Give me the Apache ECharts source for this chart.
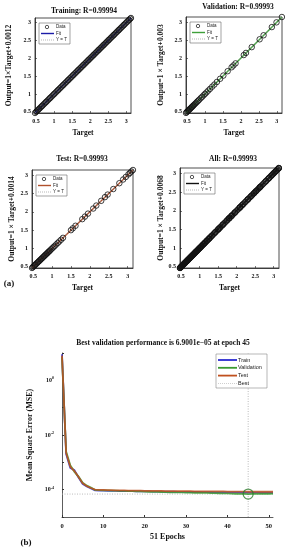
<!DOCTYPE html>
<html><head><meta charset="utf-8">
<script src="https://cdn.jsdelivr.net/npm/echarts@6/dist/echarts.min.js"></script>
<style>html,body{margin:0;padding:0;background:#fff}#c{width:288px;height:550px}</style>
</head><body><div id="c"></div>
<script>
// ---------- data ----------
const regTicks = [0.5, 1, 1.5, 2, 2.5, 3];
const trainT = [0.47,0.50,0.52,0.55,0.58,0.60,0.63,0.66,0.68,0.71,0.74,0.77,0.79,0.82,0.85,0.88,0.90,0.93,0.96,0.99,1.01,1.04,1.07,1.10,1.12,1.15,1.18,1.21,1.24,1.26,1.29,1.32,1.35,1.38,1.40,1.43,1.46,1.49,1.52,1.54,1.57,1.60,1.63,1.66,1.68,1.71,1.74,1.77,1.80,1.82,1.85,1.88,1.91,1.94,1.96,1.99,2.02,2.05,2.08,2.10,2.13,2.16,2.19,2.22,2.24,2.27,2.30,2.33,2.36,2.38,2.41,2.44,2.47,2.50,2.52,2.55,2.58,2.61,2.64,2.66,2.69,2.72,2.75,2.78,2.80,2.83,2.86,2.89,2.92,2.94,2.97,3.00,3.03,3.06,3.08,3.11,3.13];
const trainY = [0.471,0.502,0.521,0.551,0.582,0.601,0.632,0.661,0.681,0.712,0.741,0.772,0.791,0.821,0.852,0.881,0.902,0.931,0.962,0.991,1.012,1.041,1.072,1.101,1.121,1.152,1.181,1.212,1.241,1.261,1.292,1.321,1.351,1.382,1.401,1.432,1.461,1.491,1.522,1.541,1.572,1.601,1.632,1.661,1.682,1.711,1.742,1.771,1.802,1.821,1.852,1.881,1.912,1.941,1.962,1.991,2.022,2.051,2.081,2.102,2.131,2.162,2.191,2.222,2.241,2.272,2.301,2.332,2.361,2.382,2.411,2.442,2.471,2.502,2.521,2.552,2.581,2.612,2.641,2.662,2.691,2.722,2.751,2.782,2.801,2.832,2.861,2.892,2.921,2.942,2.971,3.002,3.031,3.062,3.081,3.112,3.131];
const valT = [0.47,0.49,0.51,0.53,0.55,0.57,0.59,0.61,0.63,0.65,0.67,0.69,0.72,0.75,0.78,0.81,0.84,0.88,0.92,0.96,1.00,1.04,1.09,1.14,1.20,1.26,1.33,1.42,1.51,1.63,1.74,1.79,1.85,2.08,2.14,2.30,2.52,2.63,2.86,2.99,3.14];
const valY = [0.472,0.494,0.513,0.534,0.553,0.574,0.592,0.613,0.634,0.652,0.673,0.694,0.723,0.752,0.784,0.812,0.843,0.884,0.922,0.963,1.003,1.042,1.094,1.143,1.204,1.262,1.334,1.423,1.512,1.634,1.743,1.794,1.852,2.084,2.143,2.304,2.522,2.634,2.862,2.994,3.143];
const testT = [0.47,0.49,0.51,0.53,0.55,0.57,0.59,0.61,0.63,0.65,0.67,0.69,0.71,0.73,0.75,0.77,0.79,0.81,0.83,0.85,0.87,0.89,0.91,0.93,0.95,0.98,1.01,1.04,1.07,1.11,1.15,1.19,1.24,1.29,1.50,1.55,1.62,1.80,1.87,1.95,2.09,2.17,2.30,2.40,2.47,2.62,2.78,2.88,2.95,3.02,3.06,3.10,3.14];
const testY = [0.471,0.492,0.511,0.532,0.551,0.572,0.591,0.612,0.631,0.652,0.671,0.692,0.711,0.732,0.751,0.772,0.791,0.812,0.831,0.852,0.871,0.892,0.911,0.932,0.951,0.982,1.011,1.042,1.071,1.112,1.151,1.192,1.241,1.292,1.501,1.552,1.621,1.802,1.871,1.952,2.091,2.172,2.301,2.402,2.471,2.622,2.781,2.882,2.951,3.022,3.061,3.102,3.141];
const allT = trainT.concat(valT, testT);
const allY = trainY.concat(valY, testY);

const regTitles = ['Training: R=0.99994', 'Validation: R=0.99993', 'Test: R=0.99993', 'All: R=0.99993'];
const regYNames = ['Output=1\u00d7Target+0.0012', 'Output=1 \u00d7 Target+0.003', 'Output=1 \u00d7 Target+0.0014', 'Output=1 \u00d7 Target+0.0068'];
const fitSlope = [1, 1, 1, 1];
const fitB = [0.0012, 0.003, 0.0014, 0.0068];

const perfXTicks = [0, 10, 20, 30, 40, 50];
const perfYLabelExps = [0, -2, -4];
const trainPerf = [9, 2.0e-3, 6.2e-4, 5.2e-4, 2.8e-4, 1.6e-4, 1.3e-4, 1.1e-4, 9.4e-5, 9.3e-5, 9.2e-5, 9.1e-5, 9.1e-5, 9.0e-5, 8.9e-5, 8.9e-5, 8.8e-5, 8.8e-5, 8.7e-5, 8.7e-5, 8.6e-5, 8.6e-5, 8.5e-5, 8.5e-5, 8.5e-5, 8.4e-5, 8.4e-5, 8.4e-5, 8.3e-5, 8.3e-5, 8.3e-5, 8.2e-5, 8.2e-5, 8.2e-5, 8.1e-5, 8.1e-5, 8.1e-5, 8.0e-5, 8.0e-5, 8.0e-5, 7.9e-5, 7.9e-5, 7.9e-5, 7.9e-5, 7.8e-5, 7.8e-5, 7.8e-5, 7.8e-5, 7.7e-5, 7.7e-5, 7.7e-5, 7.7e-5];
const valPerf = [7, 2.5e-3, 7.8e-4, 4.5e-4, 3.0e-4, 1.8e-4, 1.4e-4, 1.2e-4, 9.8e-5, 9.6e-5, 9.5e-5, 9.4e-5, 9.3e-5, 9.2e-5, 9.1e-5, 9.0e-5, 8.9e-5, 8.8e-5, 8.7e-5, 8.6e-5, 8.5e-5, 8.4e-5, 8.3e-5, 8.3e-5, 8.2e-5, 8.1e-5, 8.0e-5, 8.0e-5, 7.9e-5, 7.9e-5, 7.8e-5, 7.8e-5, 7.7e-5, 7.7e-5, 7.6e-5, 7.6e-5, 7.5e-5, 7.5e-5, 7.4e-5, 7.3e-5, 7.3e-5, 7.2e-5, 7.1e-5, 7.0e-5, 7.0e-5, 6.9001e-5, 7.0e-5, 7.0e-5, 7.1e-5, 7.1e-5, 7.1e-5, 7.2e-5];
const testPerf = [8, 2.2e-3, 7.0e-4, 4.8e-4, 2.9e-4, 1.7e-4, 1.35e-4, 1.15e-4, 1.0e-4, 9.9e-5, 9.8e-5, 9.7e-5, 9.6e-5, 9.5e-5, 9.4e-5, 9.4e-5, 9.3e-5, 9.3e-5, 9.2e-5, 9.2e-5, 9.1e-5, 9.1e-5, 9.0e-5, 9.0e-5, 9.0e-5, 8.9e-5, 8.9e-5, 8.9e-5, 8.8e-5, 8.8e-5, 8.8e-5, 8.8e-5, 8.7e-5, 8.7e-5, 8.7e-5, 8.7e-5, 8.6e-5, 8.6e-5, 8.6e-5, 8.6e-5, 8.5e-5, 8.5e-5, 8.5e-5, 8.5e-5, 8.5e-5, 8.4e-5, 8.4e-5, 8.4e-5, 8.4e-5, 8.4e-5, 8.4e-5, 8.4e-5];
const bestEpoch = 45;
const bestPerf = 6.9001e-5;
const perfTitle = 'Best validation performance is 6.9001e\u221205 at epoch 45';

// ---------- styling / layout ----------
const SERIF = "'Liberation Serif','Times New Roman',serif";
const SANS = "'Liberation Sans',Arial,sans-serif";
const fitColors = ['#1c1ca8', '#3ea03a', '#b0502c', '#111111'];
const perfColors = ['#2a2ad0', '#3a9a30', '#c0501e'];
const regGrids = [
  {left: 35, top: 18, width: 96, height: 95},
  {left: 186, top: 17, width: 96, height: 96},
  {left: 32, top: 170, width: 101, height: 98},
  {left: 180, top: 168, width: 99, height: 100}
];
const regTitlePos = [[84, 11], [238, 7], [82, 159], [233, 159]];
const regYNameGap = [22, 21, 16, 15];
const perfGrid = {left: 62, top: 353, width: 211, height: 164};

const regT = [trainT, valT, testT, allT];
const regY = [trainY, valY, testY, allY];

const grids = [], xAxes = [], yAxes = [], series = [], graphics = [];
const tickLabel = {fontSize: 6, fontWeight: 'bold', fontFamily: SERIF, color: '#111'};
const nameStyle = {fontSize: 7.5, fontWeight: 'bold', fontFamily: SERIF, color: '#111'};

for (let i = 0; i < 4; i++) {
  const T = regT[i], Y = regY[i];
  const lo = Math.min(...T, ...Y), hi = Math.max(...T, ...Y);
  grids.push(Object.assign({show: true, borderColor: '#222', borderWidth: 0.8, backgroundColor: '#fff'}, regGrids[i]));
  const common = {
    type: 'value', gridIndex: i, min: lo, max: hi,
    axisLine: {lineStyle: {color: '#222', width: 0.8}},
    axisTick: {inside: true, length: 2, customValues: regTicks, lineStyle: {color: '#222', width: 0.6}},
    splitLine: {show: false},
    nameLocation: 'middle', nameTextStyle: nameStyle
  };
  xAxes.push(Object.assign({}, common, {
    name: 'Target', nameGap: 16,
    axisLabel: Object.assign({customValues: regTicks, margin: 5, formatter: v => String(v)}, tickLabel)
  }));
  yAxes.push(Object.assign({}, common, {
    name: regYNames[i], nameGap: regYNameGap[i],
    axisLabel: Object.assign({customValues: regTicks, margin: 4, formatter: v => String(v)}, tickLabel)
  }));
  series.push({
    type: 'line', xAxisIndex: i, yAxisIndex: i, name: 'Fit', symbol: 'none',
    lineStyle: {color: fitColors[i], width: 1.4},
    data: [[lo, fitSlope[i] * lo + fitB[i]], [hi, fitSlope[i] * hi + fitB[i]]], z: 2
  });
  series.push({
    type: 'line', xAxisIndex: i, yAxisIndex: i, name: 'Y = T', symbol: 'none',
    lineStyle: {color: '#888', width: 0.8, type: [1, 1.5]},
    data: [[lo, lo], [hi, hi]], z: 3
  });
  series.push({
    type: 'scatter', xAxisIndex: i, yAxisIndex: i, name: 'Data',
    symbol: 'circle', symbolSize: 5.5, clip: true,
    itemStyle: {color: 'rgba(0,0,0,0)', borderColor: '#111', borderWidth: 1},
    data: T.map((t, k) => [t, Y[k]]), z: 4
  });
  graphics.push({type: 'text', x: regTitlePos[i][0], y: regTitlePos[i][1], z: 100,
    style: {text: regTitles[i], font: 'bold 7.5px ' + SERIF, fill: '#111', align: 'center', verticalAlign: 'middle'}});
  // legend box
  const lx = regGrids[i].left + 4, ly = regGrids[i].top + 5;
  graphics.push({type: 'rect', z: 100, shape: {x: lx, y: ly, width: 31, height: 21}, style: {fill: '#fff', stroke: '#666', lineWidth: 0.6}});
  graphics.push({type: 'circle', z: 101, shape: {cx: lx + 8, cy: ly + 4, r: 1.7}, style: {fill: 'none', stroke: '#111', lineWidth: 0.7}});
  graphics.push({type: 'line', z: 101, shape: {x1: lx + 2, y1: ly + 10.5, x2: lx + 15, y2: ly + 10.5}, style: {stroke: fitColors[i], lineWidth: 1.4}});
  graphics.push({type: 'line', z: 101, shape: {x1: lx + 2, y1: ly + 17, x2: lx + 15, y2: ly + 17}, style: {stroke: '#999', lineWidth: 0.7, lineDash: [1, 1]}});
  ['Data', 'Fit', 'Y = T'].forEach((s, k) => graphics.push({type: 'text', z: 101, x: lx + 17, y: ly + 4 + k * 6.5,
    style: {text: s, font: '4.5px ' + SANS, fill: '#222', align: 'left', verticalAlign: 'middle'}}));
}

// perf plot
grids.push(Object.assign({show: false}, perfGrid));
xAxes.push({
  type: 'value', gridIndex: 4, min: 0, max: 51,
  name: '51 Epochs', nameLocation: 'middle', nameGap: 16, nameTextStyle: Object.assign({}, nameStyle, {fontSize: 8}),
  axisLine: {lineStyle: {color: '#333', width: 0.8}},
  axisTick: {inside: true, length: 2, customValues: perfXTicks, lineStyle: {color: '#333'}},
  axisLabel: Object.assign({customValues: perfXTicks, margin: 6}, tickLabel, {fontSize: 6.5}),
  splitLine: {show: false}
});
yAxes.push({
  type: 'log', logBase: 10, gridIndex: 4, min: 1e-5, max: 10, splitNumber: 6,
  name: 'Mean Square Error (MSE)', nameLocation: 'middle', nameGap: 26, nameTextStyle: Object.assign({}, nameStyle, {fontSize: 8}),
  axisLine: {lineStyle: {color: '#333', width: 0.8}},
  axisTick: {inside: true, length: 2, lineStyle: {color: '#333'}},
  axisLabel: {
    margin: 8,
    formatter: v => {
      const e = Math.round(Math.log10(v));
      return perfYLabelExps.indexOf(e) >= 0 ? '{b|10}{s|' + e + '}' : '';
    },
    rich: {
      b: {fontSize: 6, fontWeight: 'bold', fontFamily: SERIF, color: '#111'},
      s: {fontSize: 4, fontWeight: 'bold', fontFamily: SERIF, color: '#111', verticalAlign: 'top', padding: [0, 0, 4, 0]}
    }
  },
  splitLine: {show: false}
});
const perfSets = [['Train', trainPerf], ['Validation', valPerf], ['Test', testPerf]];
perfSets.forEach(([nm, arr], k) => series.push({
  type: 'line', name: nm, xAxisIndex: 4, yAxisIndex: 4, symbol: 'none',
  lineStyle: {color: perfColors[k], width: 1.8, opacity: 0.85},
  data: arr.map((v, e) => [e, v]), z: 2 + k
}));
series.push({type: 'line', name: 'Best', xAxisIndex: 4, yAxisIndex: 4, symbol: 'none',
  lineStyle: {color: '#aaa', width: 0.8, type: [1, 1.5]}, data: [[0, bestPerf], [51, bestPerf]], z: 1});
series.push({type: 'line', name: 'BestV', xAxisIndex: 4, yAxisIndex: 4, symbol: 'none',
  lineStyle: {color: '#aaa', width: 0.8, type: [1, 1.5]}, data: [[bestEpoch, 1e-5], [bestEpoch, 10]], z: 1});
series.push({type: 'scatter', name: 'BestPt', xAxisIndex: 4, yAxisIndex: 4, symbol: 'circle', symbolSize: 10,
  itemStyle: {color: 'rgba(0,0,0,0)', borderColor: '#2a7a2a', borderWidth: 1.2}, data: [[bestEpoch, bestPerf]], z: 10});

graphics.push({type: 'text', x: 163, y: 343, z: 100,
  style: {text: perfTitle, font: 'bold 7.5px ' + SERIF, fill: '#111', align: 'center', verticalAlign: 'middle'}});
graphics.push({type: 'text', x: 9, y: 284, z: 100,
  style: {text: '(a)', font: 'bold 9px ' + SERIF, fill: '#111', align: 'center', verticalAlign: 'middle'}});
graphics.push({type: 'text', x: 26, y: 543, z: 100,
  style: {text: '(b)', font: 'bold 9px ' + SERIF, fill: '#111', align: 'center', verticalAlign: 'middle'}});
// perf legend
const plx = 216, ply = 354;
graphics.push({type: 'rect', z: 100, shape: {x: plx, y: ply, width: 51, height: 34}, style: {fill: '#fff', stroke: '#888', lineWidth: 0.6}});
['Train', 'Validation', 'Test', 'Best'].forEach((s, k) => {
  const yy = ply + 6 + k * 7.8;
  graphics.push({type: 'line', z: 101, shape: {x1: plx + 2, y1: yy, x2: plx + 21, y2: yy},
    style: k < 3 ? {stroke: perfColors[k], lineWidth: 1.8} : {stroke: '#bbb', lineWidth: 0.7, lineDash: [1, 1]}});
  graphics.push({type: 'text', z: 101, x: plx + 22, y: yy,
    style: {text: s, font: '5.5px ' + SANS, fill: '#222', align: 'left', verticalAlign: 'middle'}});
});

const chart = echarts.init(document.getElementById('c'), null, {renderer: 'canvas'});
chart.setOption({
  animation: false,
  backgroundColor: '#fff',
  grid: grids, xAxis: xAxes, yAxis: yAxes, series: series, graphic: graphics
});
</script></body></html>
